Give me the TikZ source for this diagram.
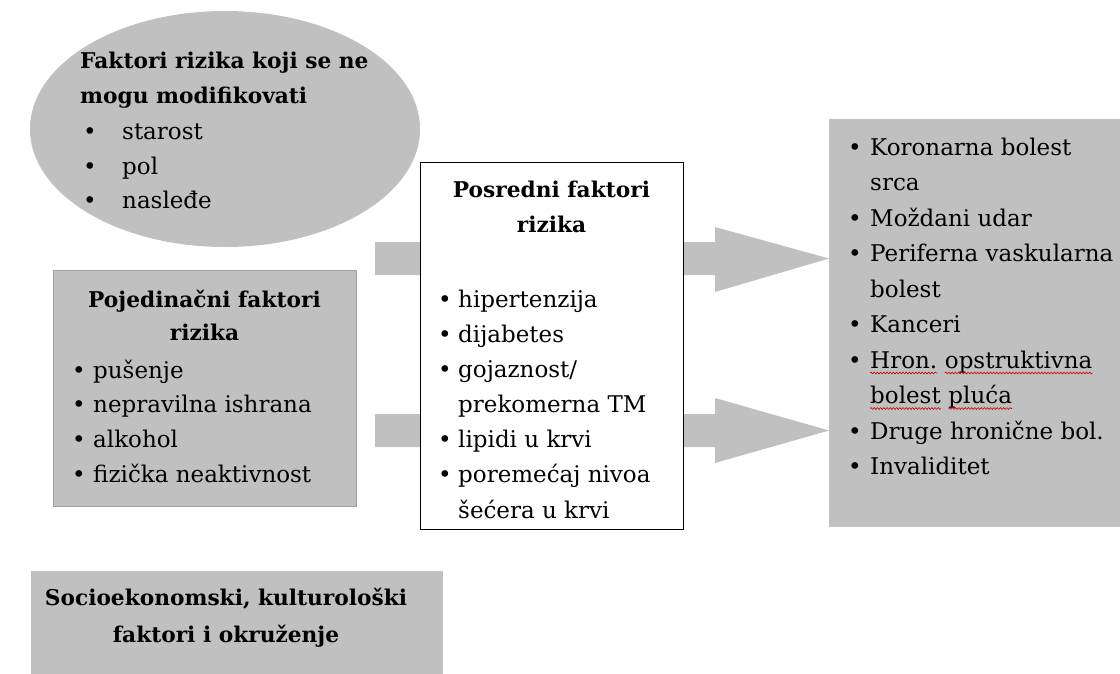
\documentclass[tikz,border=0pt]{standalone}
\usepackage{fontspec}
\setmainfont{DejaVu Serif}
\usetikzlibrary{shapes.geometric,decorations.pathmorphing}
\definecolor{boxgray}{HTML}{C0C0C0}
\definecolor{edgegray}{HTML}{A0A0A0}
\begin{document}
\begin{tikzpicture}[x=1pt,y=-1pt,
  txt/.style={inner sep=0, font=\fontsize{23}{27}\selectfont},
  ttl/.style={inner sep=0, font=\fontsize{21.7}{26}\selectfont\bfseries},
  blockarrow/.style={fill=boxgray, draw=none},
  spell/.style={draw=red!80!black, line width=0.6pt, decorate, decoration={snake, amplitude=0.9pt, segment length=3.2pt}}]
\useasboundingbox (0,0) rectangle (1120,673);
\fill[white] (0,0) rectangle (1120,673);

% shapes
\node (nonmod) [ellipse, fill=boxgray, minimum width=390pt, minimum height=236pt, inner sep=0] at (225,129) {};
\node (indiv) [draw=edgegray, fill=boxgray, minimum width=303pt, minimum height=236pt, inner sep=0, anchor=north west] at (53,270) {};
\node (outcome) [fill=boxgray, minimum width=291pt, minimum height=408pt, inner sep=0, anchor=north west] at (829,119) {};
\node (socio) [fill=boxgray, minimum width=412pt, minimum height=103pt, inner sep=0, anchor=north west] at (31,571) {};

% block arrows
\fill[blockarrow] (375,242) -- (715,242) -- (715,227) -- (outcome.west |- 0,258.5) -- (715,292) -- (715,275) -- (375,275) -- cycle;
\fill[blockarrow] (375,414) -- (715,414) -- (715,398) -- (outcome.west |- 0,430.5) -- (715,463) -- (715,447) -- (375,447) -- cycle;

\node (mid) [draw=black, line width=1pt, fill=white, minimum width=263pt, minimum height=367pt, inner sep=0, anchor=north west] at (420,162) {};

% ellipse text
\node[ttl, anchor=base west] (e1) at (80,68) {Faktori rizika koji se ne};
\node[ttl, anchor=base west] (e2) at (80,103) {mogu modifikovati};
\foreach \t [count=\i] in {starost, pol, nasleđe} {
  \node[txt, anchor=base west] (eb\i) at (83,105+34.5*\i) {\textbullet};
  \node[txt, anchor=base west] (et\i) at (122,105+34.5*\i) {\t};
}

% individual factors
\node[ttl, anchor=base] (i1) at (204.5,307) {Pojedinačni faktori};
\node[ttl, anchor=base] (i2) at (204.5,340) {rizika};
\foreach \t [count=\i] in {pušenje, nepravilna ishrana, alkohol, fizička neaktivnost} {
  \node[txt, anchor=base west] (ib\i) at (72,378+34.7*\i-34.7) {\textbullet};
  \node[txt, anchor=base west] (it\i) at (93,378+34.7*\i-34.7) {\t};
}

% intermediate factors
\node[ttl, anchor=base] (m1) at (551.5,197) {Posredni faktori};
\node[ttl, anchor=base] (m2) at (551.5,232) {rizika};
\foreach \t [count=\i] in {hipertenzija, dijabetes, {gojaznost/}, prekomerna TM, lipidi u krvi, poremećaj nivoa, šećera u krvi} {
  \node[txt, anchor=base west] (mt\i) at (458,307+35.17*\i-35.17) {\t};
}
\foreach \i in {1,2,3,5,6} {
  \node[txt, anchor=base west] (mb\i) at (438,307+35.17*\i-35.17) {\textbullet};
}

% outcomes
\foreach \t [count=\i] in {Koronarna bolest, srca, Moždani udar, Periferna vaskularna, bolest, Kanceri, Hron., bolest, Druge hronične bol., Invaliditet} {
  \node[txt, anchor=base west] (ot\i) at (870,155+35.5*\i-35.5) {\t};
}
\node[txt, anchor=base west] (ot7b) at ([xshift=7.3pt]ot7.base east) {opstruktivna};
\node[txt, anchor=base west] (ot8b) at ([xshift=7.3pt]ot8.base east) {pluća};
\foreach \i in {1,3,4,6,7,9,10} {
  \node[txt, anchor=base west] (ob\i) at (848,155+35.5*\i-35.5) {\textbullet};
}
\foreach \w in {ot7, ot7b, ot8, ot8b} {
  \draw[spell] ([yshift=-5pt]\w.base west) -- ([yshift=-5pt]\w.base east);
}

% socio
\node[ttl, anchor=base] (s1) at (226,605) {Socioekonomski, kulturološki};
\node[ttl, anchor=base] (s2) at (226,642) {faktori i okruženje};
\end{tikzpicture}
\end{document}
